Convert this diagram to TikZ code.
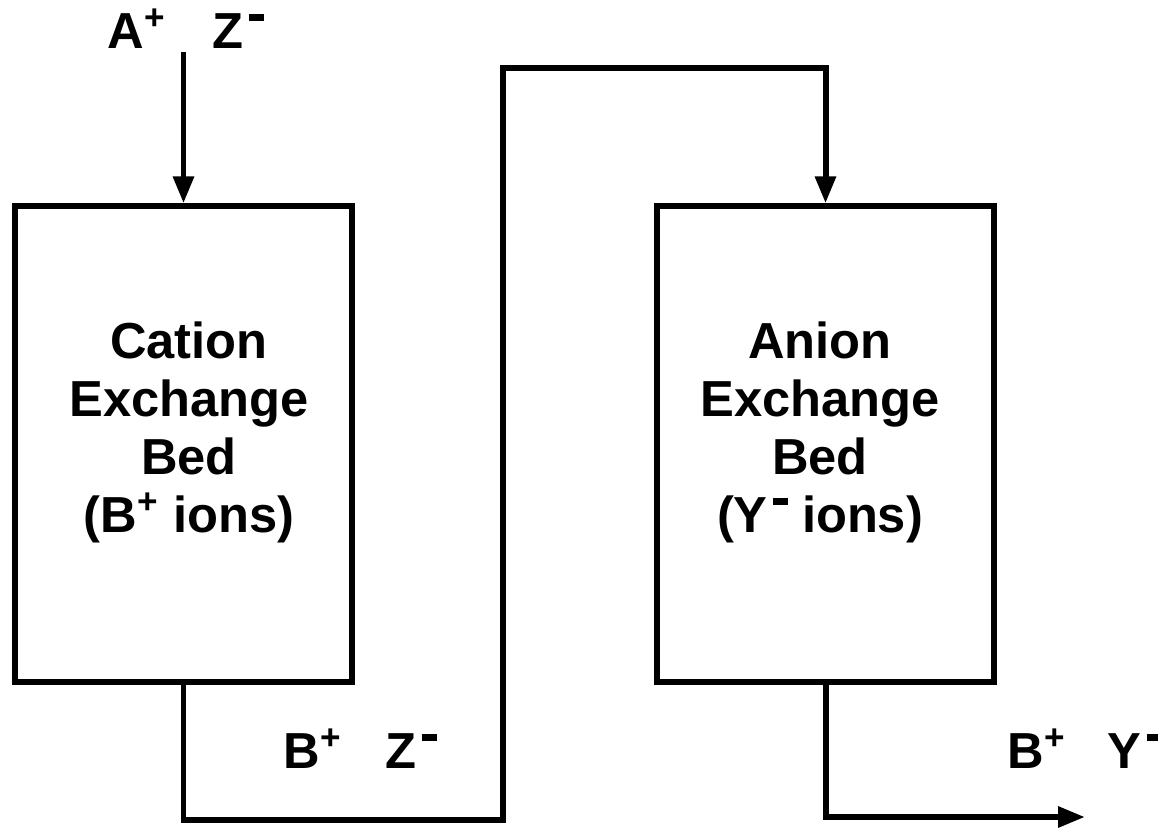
\documentclass[tikz,border=0pt]{standalone}
\usepackage{fontspec}
\setmainfont{Liberation Sans}
\usetikzlibrary{arrows.meta}
\newcommand{\minusion}{\kern0.1em\rule[0.54em]{0.3em}{0.13em}}

\begin{document}
\begin{tikzpicture}[x=0.01cm,y=-0.01cm,
  flow/.style={line width=1.7pt,-{Triangle[length=0.27cm,width=0.2cm]}},
  bed/.style={draw,line width=1.7pt,minimum width=3.36cm,minimum height=4.75cm,inner sep=0pt},
  bedtext/.style={font=\fontsize{14.4}{16.5}\selectfont\bfseries,align=center},
  ion/.style={font=\fontsize{14.4}{16.5}\selectfont\bfseries,inner sep=0pt,anchor=base west}]
\useasboundingbox (0,0) rectangle (1158,827);
% the two beds
\node[bed] (cation) at (183.5,444) {};
\node[bed] (anion) at (825.5,444) {};
\node[bedtext] (cationtext) at (189,432) {Cation\\Exchange\\Bed\\(B\textsuperscript{+} ions)};
\node[bedtext] (aniontext) at (820,432) {Anion\\Exchange\\Bed\\(Y\minusion\ ions)};
% ions in the streams
\node[ion] (ain) at (107,48) {A\textsuperscript{+}};
\node[ion] (zin) at (212,48) {Z\minusion};
\node[ion] (bmid) at (283,768) {B\textsuperscript{+}};
\node[ion] (zmid) at (385,768) {Z\minusion};
\node[ion] (bout) at (1007,768) {B\textsuperscript{+}};
\node[ion] (yout) at (1107,768) {Y\minusion};
% streams
\coordinate (feed) at (183.5,52);
\coordinate (product) at (1085,817);
\draw[flow] (feed) -- (cation.north);
\draw[flow] (cation.south) -- ++(0,135) -| (503,68) -| (anion.north);
\draw[flow] (anion.south) |- (product);
\end{tikzpicture}
\end{document}
